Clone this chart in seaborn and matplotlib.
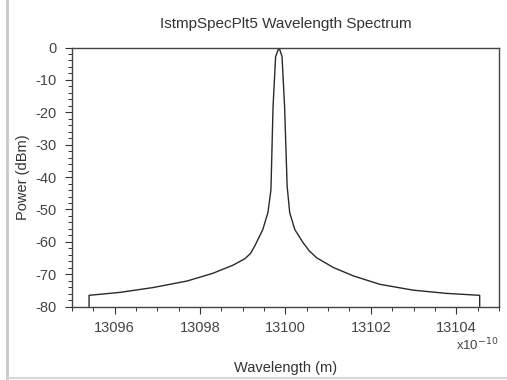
import matplotlib
matplotlib.use("Agg")
import matplotlib.pyplot as plt
from matplotlib.ticker import MultipleLocator, FormatStrFormatter
from matplotlib.lines import Line2D
import seaborn as sns
import pandas as pd

# Spectrum (wavelength in units of 1e-10 m, power in dBm)
wavelength = [13095.40, 13095.40, 13096.12, 13096.90, 13097.69, 13098.30,
              13098.77, 13099.05, 13099.18, 13099.28, 13099.47, 13099.59,
              13099.66, 13099.71, 13099.77, 13099.85, 13099.92, 13099.98,
              13100.04, 13100.10, 13100.22, 13100.41, 13100.56, 13100.73,
              13101.12, 13101.59, 13102.21, 13102.99, 13103.77, 13104.55,
              13104.55]
power = [-80.0, -76.5, -75.6, -74.1, -72.1, -69.7,
         -67.2, -65.2, -63.6, -61.3, -56.2, -50.9,
         -44.0, -18.2, -2.8, 0.0, -2.8, -18.2,
         -42.8, -51.0, -56.2, -60.2, -62.8, -64.9,
         -67.9, -70.5, -73.1, -74.9, -75.9, -76.5,
         -80.0]

x_ticks = [13096, 13098, 13100, 13102, 13104]
y_ticks = [0, -10, -20, -30, -40, -50, -60, -70, -80]

sns.set_style("ticks")
plt.rcParams['font.family'] = ['Liberation Sans', 'DejaVu Sans']
plt.rcParams['font.size'] = 10.5
plt.rcParams['axes.unicode_minus'] = False

df = pd.DataFrame({'wavelength': wavelength, 'power': power})

fig = plt.figure(figsize=(5.07, 3.80), dpi=100)
ax = fig.add_axes([0.142, 0.193, 0.842, 0.682])

sns.lineplot(data=df, x='wavelength', y='power', ax=ax, sort=False,
             estimator=None, color='#2a2a2a', linewidth=1.0)

ax.set_xlim(13095, 13105)
ax.set_ylim(-80, 0)
ax.set_xticks(x_ticks)
ax.set_yticks(y_ticks)
ax.xaxis.set_major_formatter(FormatStrFormatter('%d'))
ax.yaxis.set_major_formatter(FormatStrFormatter('%d'))
ax.xaxis.set_minor_locator(MultipleLocator(0.5))
ax.yaxis.set_minor_locator(MultipleLocator(2))
ax.tick_params(which='major', direction='out', length=5, width=0.8,
               colors='#333333', labelsize=10.5, labelcolor='#444444')
ax.tick_params(axis='y', which='major', pad=6)
ax.tick_params(axis='x', which='major', pad=5)
ax.tick_params(which='minor', direction='out', length=3, width=0.7,
               colors='#333333')
for s in ax.spines.values():
    s.set_color('#444444')
    s.set_linewidth(1.0)

ax.set_title('IstmpSpecPlt5 Wavelength Spectrum', fontsize=11,
             color='#333333', pad=14)
ax.set_xlabel('Wavelength (m)', fontsize=10.5, color='#333333', labelpad=19)
ax.set_ylabel('Power (dBm)', fontsize=10.5, color='#333333', labelpad=4)

fig.text(0.983, 0.092, 'x10$^{-10}$', ha='right', va='center',
         fontsize=9.5, color='#444444')

# screenshot frame
fig.add_artist(Line2D([0.014, 0.014], [0.0, 1.0], color='#c8c8c8', lw=2.0))
fig.add_artist(Line2D([0.014, 1.0], [0.006, 0.006], color='#d8d8d8', lw=1.5))

fig.savefig('out.png', dpi=100, facecolor='white')
